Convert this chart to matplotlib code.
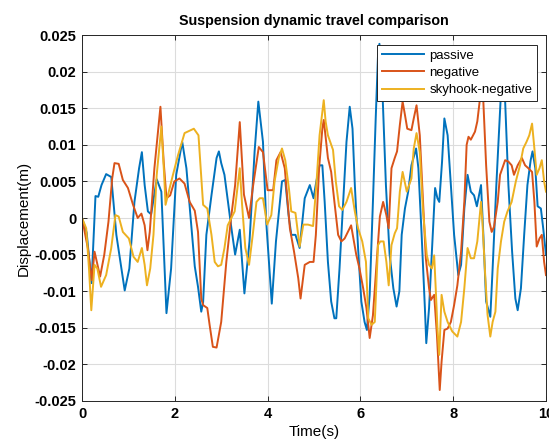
import numpy as np
import matplotlib
matplotlib.use("Agg")
import matplotlib.pyplot as plt
from matplotlib.ticker import FuncFormatter

# ---------------------------------------------------------------- data

passive_t = [0, 0.1, 0.205, 0.29, 0.35, 0.42, 0.52, 0.63, 0.74, 0.92, 1.02, 1.13, 1.23, 1.29,
             1.35, 1.42, 1.49, 1.61, 1.71, 1.82, 1.92, 2.03, 2.16, 2.25, 2.43, 2.50, 2.57, 2.61,
             2.68, 2.79, 2.90, 2.95, 3.00, 3.07, 3.22, 3.30, 3.40, 3.50, 3.61, 3.72, 3.80, 3.90,
             3.97, 4.09, 4.18, 4.31, 4.38, 4.45, 4.51, 4.60, 4.69, 4.80, 4.91, 4.99, 5.05, 5.12,
             5.18, 5.23, 5.30, 5.37, 5.44, 5.48, 5.55, 5.63, 5.70, 5.77, 5.83, 5.88, 5.95, 6.02,
             6.09, 6.14, 6.20, 6.27, 6.33, 6.38, 6.41, 6.47, 6.55, 6.63, 6.71, 6.78, 6.84, 6.89,
             6.96, 7.03, 7.10, 7.20, 7.25, 7.32, 7.39, 7.42, 7.48, 7.54, 7.61, 7.66, 7.70, 7.76,
             7.81, 7.88, 7.95, 8.02, 8.11, 8.17, 8.24, 8.31, 8.38, 8.45, 8.51, 8.60, 8.65, 8.71,
             8.80, 8.85, 8.93, 9.02, 9.07, 9.12, 9.19, 9.27, 9.34, 9.39, 9.46, 9.53, 9.60, 9.67,
             9.71, 9.77, 9.82, 9.89, 9.94, 10.0]
passive = [0, -0.002, -0.0089, 0.003, 0.0029, 0.0045, 0.006, 0.0056, -0.0023, -0.0099, -0.0069,
           0.0022, 0.0068, 0.009, 0.0045, 0.0009, 0.0005, 0.0053, 0.0036, -0.013, -0.0069, 0.0059,
           0.0104, 0.0068, -0.0066, -0.0094, -0.0128, -0.0115, -0.0023, 0.0031, 0.0082, 0.0091,
           0.0075, 0.0059, -0.0014, -0.005, -0.0016, -0.0103, -0.0032, 0.0091, 0.0159, 0.0104,
           -0.0005, -0.0117, -0.0032, 0.005, 0.0052, 0.0005, -0.0023, -0.0023, -0.0041, 0.0027,
           0.0045, 0.0027, 0.005, 0.0072, 0.0072, 0.0022, -0.006, -0.0114, -0.0137, -0.0137,
           -0.0069, 0.0022, 0.0104, 0.0152, 0.0122, 0.0045, -0.0041, -0.0114, -0.0142, -0.0153,
           -0.0105, 0.0022, 0.0136, 0.0223, 0.0238, 0.0182, 0.0045, -0.005, -0.0096, -0.0121,
           -0.010, -0.0023, 0.0013, 0.0036, 0.0072, 0.0095, 0.0068, -0.0023, -0.0123, -0.0171,
           -0.0123, -0.0046, 0.0041, 0.0027, 0.0022, 0.0077, 0.0136, 0.0113, 0.0045, -0.0023,
           -0.0078, -0.0064, 0.0013, 0.0059, 0.0036, 0.0031, 0.0016, 0.0045, -0.0023, -0.0114,
           -0.0135, -0.0069, 0.0045, 0.0159, 0.0205, 0.0159, 0.0045, -0.0046, -0.011, -0.0126,
           -0.0096, -0.0023, 0.0045, 0.0079, 0.0091, 0.0068, 0.0016, 0.0013, -0.0014, -0.005]

negative_t = [0, 0.125, 0.21, 0.27, 0.39, 0.48, 0.57, 0.65, 0.70, 0.79, 0.88, 0.99, 1.10, 1.20,
              1.28, 1.35, 1.41, 1.46, 1.56, 1.69, 1.76, 1.82, 1.90, 1.99, 2.10, 2.21, 2.32, 2.43,
              2.50, 2.57, 2.61, 2.70, 2.75, 2.82, 2.90, 3.00, 3.11, 3.22, 3.30, 3.40, 3.49, 3.60,
              3.68, 3.81, 3.90, 4.00, 4.12, 4.19, 4.28, 4.37, 4.48, 4.57, 4.66, 4.71, 4.80, 4.91,
              4.99, 5.04, 5.11, 5.18, 5.21, 5.27, 5.30, 5.37, 5.44, 5.52, 5.59, 5.66, 5.73, 5.80,
              5.86, 5.91, 5.98, 6.06, 6.13, 6.20, 6.27, 6.35, 6.42, 6.49, 6.56, 6.61, 6.67, 6.74,
              6.79, 6.85, 6.91, 6.96, 7.01, 7.10, 7.15, 7.21, 7.28, 7.35, 7.41, 7.48, 7.52, 7.59,
              7.65, 7.71, 7.75, 7.81, 7.88, 7.95, 8.02, 8.09, 8.17, 8.24, 8.29, 8.33, 8.38, 8.47,
              8.52, 8.57, 8.61, 8.65, 8.71, 8.78, 8.83, 8.88, 8.96, 9.01, 9.06, 9.12, 9.19, 9.26,
              9.31, 9.39, 9.48, 9.55, 9.62, 9.70, 9.75, 9.80, 9.86, 9.91, 9.96, 10.0]
negative = [0, -0.0041, -0.0085, -0.0046, -0.008, -0.005, -0.0005, 0.0054, 0.0075, 0.0074, 0.0052,
            0.0041, 0.0018, 0, 0.0006, -0.001, -0.0044, -0.0019, 0.0068, 0.0152, 0.0077, 0.0027,
            0.0031, 0.005, 0.0054, 0.0047, 0.0022, 0.0010, -0.0019, -0.011, -0.0119, -0.0123,
            -0.0146, -0.0176, -0.0177, -0.0142, -0.006, 0.0004, 0.0045, 0.0131, 0.0032, 0.0,
            0.0041, 0.0097, 0.009, 0.0038, 0.0038, 0.0079, 0.009, 0.0068, -0.0014, -0.0046,
            -0.0082, -0.011, -0.0064, -0.006, -0.006, -0.0023, 0.0068, 0.0122, 0.0134, 0.010,
            0.0082, 0.0063, 0.0022, -0.0023, -0.0032, -0.0028, -0.0019, -0.001, -0.0032, -0.005,
            -0.0069, -0.0096, -0.0123, -0.0164, -0.0133, -0.006, 0.0002, 0.0022, 0.0004, -0.0014,
            0.0068, 0.0082, 0.0091, 0.0127, 0.0159, 0.0141, 0.0122, 0.012, 0.0136, 0.0154, 0.0113,
            0.0022, -0.0055, -0.0096, -0.0112, -0.0105, -0.016, -0.0235, -0.0196, -0.0153,
            -0.0151, -0.0142, -0.0119, -0.0092, -0.0046, 0.0022, 0.010, 0.0111, 0.0107, 0.0118,
            0.0132, 0.0159, 0.0195, 0.0159, 0.0072, -0.0005, -0.0019, -0.0012, 0.0022, 0.0059,
            0.0068, 0.0079, 0.0077, 0.0072, 0.0059, 0.0072, 0.0082, 0.0072, 0.0068, 0.0063,
            0.0022, -0.0039, -0.0028, -0.0023, -0.006, -0.0078]

skyhook_t = [0, 0.09, 0.15, 0.2, 0.27, 0.33, 0.41, 0.52, 0.63, 0.72, 0.79, 0.88, 1.01, 1.11,
             1.20, 1.29, 1.35, 1.40, 1.47, 1.54, 1.61, 1.71, 1.77, 1.80, 1.87, 1.96, 2.07, 2.21,
             2.41, 2.51, 2.61, 2.70, 2.79, 2.86, 2.93, 3.00, 3.07, 3.14, 3.29, 3.40, 3.45, 3.52,
             3.60, 3.68, 3.76, 3.83, 3.90, 3.99, 4.08, 4.15, 4.24, 4.31, 4.38, 4.46, 4.51, 4.60,
             4.69, 4.77, 4.87, 4.98, 5.05, 5.12, 5.21, 5.25, 5.30, 5.35, 5.41, 5.47, 5.54, 5.61,
             5.70, 5.80, 5.88, 5.95, 6.04, 6.12, 6.17, 6.24, 6.31, 6.38, 6.43, 6.50, 6.56, 6.61,
             6.67, 6.74, 6.79, 6.85, 6.91, 7.00, 7.10, 7.15, 7.21, 7.28, 7.35, 7.43, 7.48, 7.54,
             7.59, 7.63, 7.66, 7.70, 7.75, 7.81, 7.88, 7.98, 8.09, 8.17, 8.24, 8.31, 8.38, 8.45,
             8.52, 8.60, 8.63, 8.69, 8.74, 8.80, 8.85, 8.91, 8.96, 9.03, 9.10, 9.17, 9.26, 9.35,
             9.44, 9.51, 9.58, 9.64, 9.70, 9.75, 9.80, 9.86, 9.91, 9.96, 10.0]
skyhook = [0, -0.0014, -0.0069, -0.0126, -0.0064, -0.0069, -0.0094, -0.0078, -0.0041, 0.0004,
           0.0002, -0.0019, -0.0028, -0.0053, -0.006, -0.0041, -0.0064, -0.0092, -0.0069, -0.0023,
           0.0059, 0.0125, 0.0059, 0.0018, 0.0036, 0.0059, 0.0086, 0.0116, 0.0122, 0.0113, 0.0018,
           0.0013, -0.0023, -0.006, -0.0066, -0.0064, -0.0041, -0.001, 0.0009, 0.0068, 0.0018,
           -0.0041, -0.0064, -0.0023, 0.0022, 0.0027, 0.0027, -0.0009, 0.0004, 0.005, 0.0082,
           0.0095, 0.0079, 0.004, 0.0009, 0.0007, -0.0039, -0.0009, -0.0009, -0.0011, 0.0045,
           0.0113, 0.0161, 0.0132, 0.0113, 0.0104, 0.0093, 0.005, 0.0016, 0.0011, 0.0022, 0.0041,
           0.0009, -0.0014, -0.0032, -0.006, -0.0137, -0.0146, -0.0142, -0.0037, -0.0032, -0.0032,
           -0.006, -0.0092, -0.0037, -0.0021, -0.0014, 0.0036, 0.0063, 0.0036, 0.0054, 0.0095,
           0.0116, 0.009, 0.0009, -0.005, -0.0064, -0.0069, -0.0051, -0.0105, -0.015, -0.0187,
           -0.0105, -0.0128, -0.0142, -0.0155, -0.0162, -0.0142, -0.0096, -0.0041, -0.0055,
           -0.0055, -0.0032, 0.0022, -0.0005, -0.0078, -0.0132, -0.0162, -0.0142, -0.0128, -0.0069,
           -0.0032, -0.0005, 0.0009, 0.0022, 0.005, 0.0072, 0.0095, 0.0104, 0.0113, 0.0129, 0.0095,
           0.0059, 0.0068, 0.0079, 0.005, 0.0036]

series_names = ['passive', 'negative', 'skyhook-negative']
series_colors = ['#0072BD', '#D95319', '#EDB120']

x_ticks = [0, 2, 4, 6, 8, 10]
y_ticks = [-0.025, -0.02, -0.015, -0.01, -0.005, 0, 0.005, 0.01, 0.015, 0.02, 0.025]

# ---------------------------------------------------------------- figure

plt.rcParams['font.family'] = ['Liberation Sans', 'DejaVu Sans']

figure = plt.figure(figsize=(5.49, 4.45), dpi=100)
axes = figure.add_axes([0.1494, 0.0989, 0.8451, 0.8224])

for t, y, name, color in zip((passive_t, negative_t, skyhook_t),
                             (passive, negative, skyhook),
                             series_names, series_colors):
    axes.plot(t, y, color=color, linewidth=1.4, label=name)

axes.set_xlim(0, 10)
axes.set_ylim(-0.025, 0.025)
axes.set_xticks(x_ticks)
axes.set_yticks(y_ticks)
axes.yaxis.set_major_formatter(FuncFormatter(lambda v, pos: '%g' % round(v, 4)))
axes.xaxis.set_major_formatter(FuncFormatter(lambda v, pos: '%g' % v))

axes.grid(True, color='#dcdcdc', linewidth=0.8)
axes.set_axisbelow(True)
axes.tick_params(direction='in', length=3.5, width=0.7, top=True, right=True,
                 colors='#262626', labelsize=10.5, pad=4)
for label in axes.get_xticklabels() + axes.get_yticklabels():
    label.set_fontweight('bold')
    label.set_color('black')
for spine in axes.spines.values():
    spine.set_color('#262626')
    spine.set_linewidth(0.7)

axes.set_title('Suspension dynamic travel comparison', fontsize=10.3, fontweight='bold', pad=7)
axes.set_xlabel('Time(s)', fontsize=11, labelpad=3)
axes.set_ylabel('Displacement(m)', fontsize=11, labelpad=3)

legend = axes.legend(loc='upper right', bbox_to_anchor=(0.9806, 0.9727), fontsize=9.5,
                     fancybox=False, framealpha=1, edgecolor='#262626', handlelength=3.2,
                     borderpad=0.35, labelspacing=0.38, handletextpad=0.4, borderaxespad=0)
legend.get_frame().set_linewidth(0.7)

figure.savefig('out.png', dpi=100)
